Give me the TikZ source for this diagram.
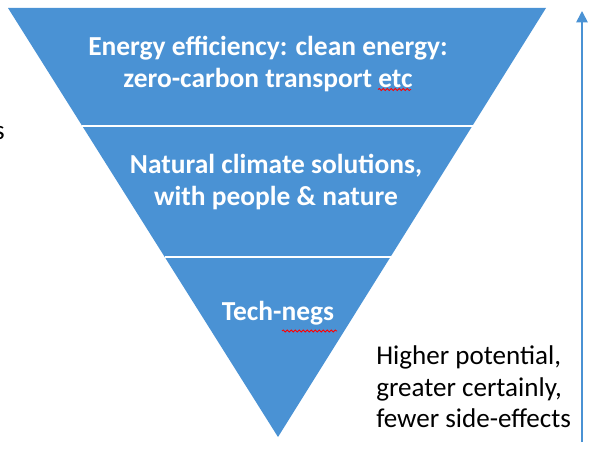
\documentclass[tikz,border=0pt]{standalone}
\usepackage{fontspec}
\setmainfont{Carlito}
\usetikzlibrary{arrows.meta, calc, decorations.pathmorphing}
\definecolor{pyrblue}{RGB}{74,146,212}
\tikzstyle{arrow} = [line width=1.3pt, draw=pyrblue, -{Triangle[length=8.5pt,width=8.5pt]}]
\tikzstyle{layer} = [fill=pyrblue, draw=none]
\tikzstyle{divider} = [draw=white, line width=1.5pt]
\tikzstyle{layertext} = [text=white, font=\bfseries\fontsize{20.6}{24.5}\selectfont, align=center, inner sep=0pt]
\tikzstyle{note} = [text=black, font=\fontsize{20.3}{23.7}\selectfont, align=left, inner sep=0pt]
\tikzstyle{spell} = [draw=red, line width=0.6pt, decorate, decoration={snake, amplitude=0.8pt, segment length=3pt}]

\begin{document}
\begin{tikzpicture}[x=0.75pt, y=-0.75pt]
\useasboundingbox (0,0) rectangle (600,453);

\coordinate (tl) at (8,8);
\coordinate (tr) at (546,8);
\coordinate (apex) at (278,437);

% inverted pyramid
\fill[layer] (tl) -- (tr) -- (apex) -- cycle;
\draw[divider] ($(tl)!0.274!(apex)$) -- ($(tr)!0.274!(apex)$);
\draw[divider] ($(tl)!0.580!(apex)$) -- ($(tr)!0.580!(apex)$);

\node (efficiency) [layertext] at (268,64) {Energy efficiency: clean energy:\\zero-carbon transport etc};
\node (natural) [layertext] at (276,182) {Natural climate solutions,\\with people \& nature};
\node (technegs) [layertext] at (278,313) {Tech-negs};

% spell check marks
\draw[spell] (378,89.5) -- (411,89.5);
\draw[spell] (282,331) -- (337,331);

\node (cut) [note, anchor=base east] at (5,139) {s};

\node (potential) [note, anchor=west] at (376,387) {Higher potential,\\greater certainly,\\fewer side-effects};

\coordinate (arrowfoot) at (582,442);
\coordinate (arrowtop) at (582,11);
\draw[arrow] (arrowfoot) -- (arrowtop);

\end{tikzpicture}
\end{document}
